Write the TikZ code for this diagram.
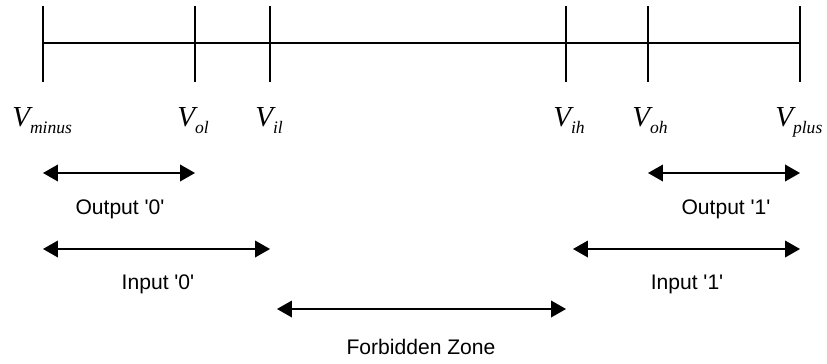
\documentclass[tikz,border=0pt]{standalone}
\usepackage{fontspec}
\setmainfont{Liberation Sans}
\newfontfamily\timesfont{Liberation Serif}
\usetikzlibrary{arrows.meta}

% voltage label: italic V with a lowered subscript
\newcommand{\volt}[1]{{\timesfont\itshape\fontsize{16.5}{18}\selectfont V\raisebox{-4pt}{\fontsize{10}{12}\selectfont #1}}}
% straight quote round a logic level
\newcommand{\lvl}[1]{\textquotesingle#1\textquotesingle}

\begin{document}
\begin{tikzpicture}[x=0.02cm, y=-0.02cm, >={Triangle[length=8.5pt, width=9.5pt]},
  zone/.style={<->, line width=0.75pt},
  zonetext/.style={font=\fontsize{12}{14}\selectfont, anchor=base, inner sep=0pt},
  vtext/.style={anchor=base west, inner sep=0pt}]
  \useasboundingbox (0,0) rectangle (827,363);

  % voltage axis with its ticks
  \foreach \n/\x in {vminus/43, vol/195, vil/270, vih/566, voh/648, vplus/800} {
    \coordinate (\n) at (\x,43);
    \draw[line width=1.1pt] (\x,6) -- (\x,82);
  }
  \draw[line width=1.1pt] (vminus) -- (vplus);

  % tick labels
  \node[vtext] (lminus) at (12,126) {\volt{minus}};
  \node[vtext] (lol)    at (177,126) {\volt{ol}};
  \node[vtext] (lil)    at (255,126) {\volt{il}};
  \node[vtext] (lih)    at (553,126) {\volt{ih}};
  \node[vtext] (loh)    at (632,126) {\volt{oh}};
  \node[vtext] (lplus)  at (775,126) {\volt{plus}};

  % rows of the ranges
  \coordinate (outrow) at (0,173);
  \coordinate (inrow)  at (0,249);
  \coordinate (fzrow)  at (0,309);

  % output ranges
  \draw[zone] (vminus |- outrow) -- (vol |- outrow);
  \draw[zone] (voh |- outrow) -- (vplus |- outrow);
  \node[zonetext] (out0) at (120,214) {Output \lvl{0}};
  \node[zonetext] (out1) at (726,214) {Output \lvl{1}};

  % input ranges
  \draw[zone] (vminus |- inrow) -- (vil |- inrow);
  \draw[zone] ([xshift=0.14cm]vih |- inrow) -- (vplus |- inrow);
  \node[zonetext] (in0) at (158,289) {Input \lvl{0}};
  \node[zonetext] (in1) at (687,289) {Input \lvl{1}};

  % forbidden zone
  \draw[zone] ([xshift=0.14cm]vil |- fzrow) -- (vih |- fzrow);
  \node[zonetext] (fz) at (421,354) {Forbidden Zone};

\end{tikzpicture}
\end{document}
